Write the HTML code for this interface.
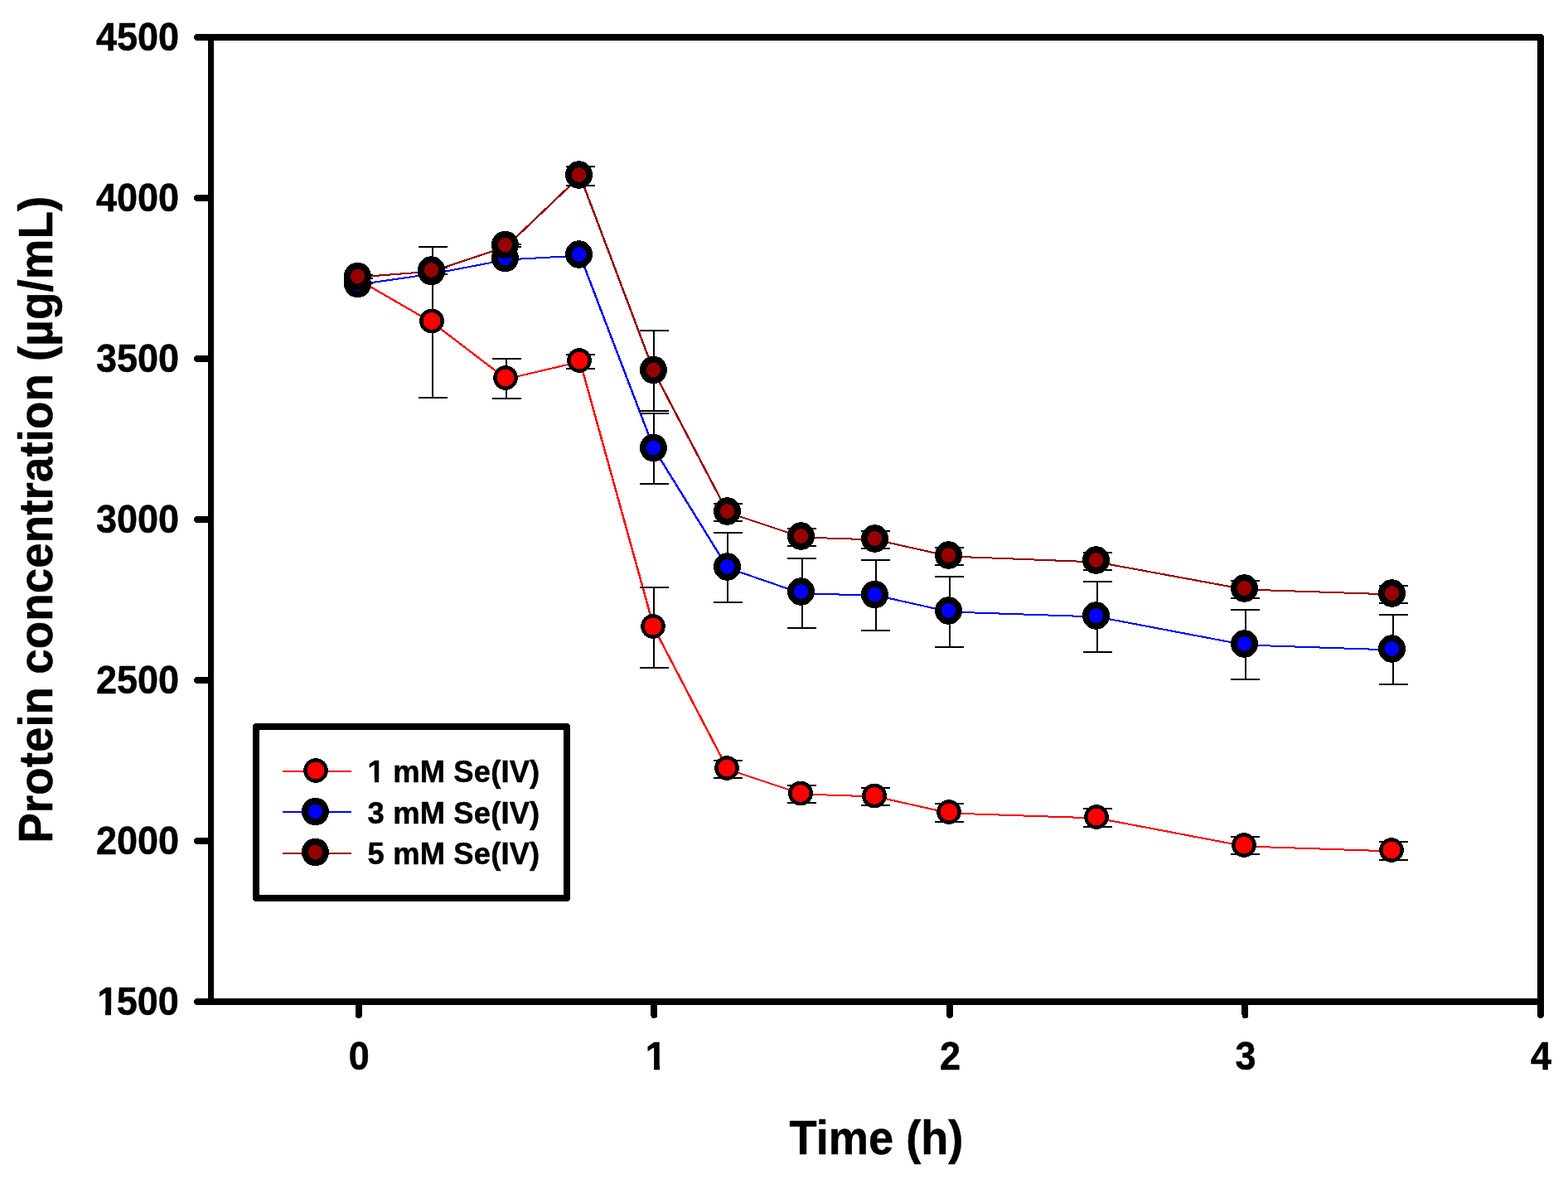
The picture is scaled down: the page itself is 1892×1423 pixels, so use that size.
<!DOCTYPE html>
<html lang="en">
<head>
<meta charset="utf-8">
<title>Protein concentration vs time</title>
<style>
html,body{margin:0;padding:0;background:#fff;}
body{width:1892px;height:1423px;overflow:hidden;}
svg{display:block;}
text{font-family:"Liberation Sans",Arial,Helvetica,sans-serif;font-weight:bold;fill:#000;stroke:#000;stroke-width:0.5px;stroke-linejoin:round;}
.tick{font-size:45px;}
.title{font-size:54.7px;}
.leg{font-size:36.4px;letter-spacing:0.15px;}
</style>
</head>
<body>
<svg width="1892" height="1423" viewBox="0 0 1892 1423" shape-rendering="crispEdges">
<rect x="0" y="0" width="1892" height="1423" fill="#fff"/>

<g fill="none" stroke="#000" stroke-width="8" stroke-linecap="round" stroke-linejoin="round">
<path d="M254.5 45H1859V1209H254.5"/>
<path d="M254.5 41V1213" stroke-width="7" stroke-linecap="butt"/>
<path d="M238 1209H254.5M238 1015H254.5M238 821H254.5M238 627H254.5M238 433H254.5M238 239H254.5M238 45H254.5M432.78 1209V1225M789.33 1209V1225M1145.89 1209V1225M1502.44 1209V1225M1859 1209V1225"/>
</g>
<g class="tick" text-anchor="end">
<text dx="1.5 -1.5" transform="translate(214.3,1225.3) scale(1,1.06)">1500</text>
<text transform="translate(216,1031.3) scale(1,1.06)">2000</text>
<text transform="translate(216,837.3) scale(1,1.06)">2500</text>
<text transform="translate(216,643.3) scale(1,1.06)">3000</text>
<text transform="translate(216,449.3) scale(1,1.06)">3500</text>
<text transform="translate(216,255.3) scale(1,1.06)">4000</text>
<text transform="translate(216,61.3) scale(1,1.06)">4500</text>
</g>
<g class="tick" text-anchor="middle">
<text transform="translate(433.28,1290.7) scale(1,1.06)">0</text>
<text transform="translate(791.33,1290.7) scale(1,1.06)">1</text>
<text transform="translate(1146.39,1290.7) scale(1,1.06)">2</text>
<text transform="translate(1502.94,1290.7) scale(1,1.06)">3</text>
<text transform="translate(1859.5,1290.7) scale(1,1.06)">4</text>
</g>
<text class="title" style="font-size:54.2px" text-anchor="middle" transform="translate(1057.5,1392.9) scale(1,1.045)">Time (h)</text>
<text class="title" style="font-size:54.85px" text-anchor="middle" transform="translate(63,627.3) rotate(-90) scale(1,1.045)">Protein concentration (µg/mL)</text>
<g>
<line x1="432" y1="337.5" x2="522" y2="389.5" stroke="#ff0000" stroke-width="2.25"/>
<line x1="522" y1="389.5" x2="611" y2="457.5" stroke="#ff0000" stroke-width="2.3"/>
<line x1="611" y1="457.5" x2="700" y2="436.5" stroke="#ff0000" stroke-width="2.11"/>
<line x1="700" y1="436.5" x2="789" y2="757.5" stroke="#ff0000" stroke-width="2.48"/>
<line x1="789" y1="757.5" x2="878" y2="928.5" stroke="#ff0000" stroke-width="2.44"/>
<line x1="878" y1="928.5" x2="968" y2="958.5" stroke="#ff0000" stroke-width="2.16"/>
<line x1="968" y1="958.5" x2="1057" y2="961.5" stroke="#ff0000" stroke-width="2.02"/>
<line x1="1057" y1="961.5" x2="1146" y2="981.5" stroke="#ff0000" stroke-width="2.11"/>
<line x1="1146" y1="981.5" x2="1324" y2="987.5" stroke="#ff0000" stroke-width="2.02"/>
<line x1="1324" y1="987.5" x2="1503" y2="1021.5" stroke="#ff0000" stroke-width="2.09"/>
<line x1="1503" y1="1021.5" x2="1681" y2="1027.5" stroke="#ff0000" stroke-width="2.02"/>
<path d="M431 331h2v12h-2zM415 331h35v2h-35zM415 341h35v2h-35zM521 297h2v184h-2zM505 297h35v2h-35zM505 479h35v2h-35zM610 432h2v50h-2zM594 432h35v2h-35zM594 480h35v2h-35zM699 427h2v19h-2zM683 427h35v2h-35zM683 444h35v2h-35zM788 708h2v99h-2zM772 708h35v2h-35zM772 805h35v2h-35zM877 917h2v23h-2zM861 917h35v2h-35zM861 938h35v2h-35zM967 947h2v23h-2zM950 947h35v2h-35zM950 968h35v2h-35zM1056 950h2v23h-2zM1039 950h35v2h-35zM1039 971h35v2h-35zM1145 969h2v24h-2zM1128 969h35v2h-35zM1128 991h35v2h-35zM1323 975h2v24h-2zM1307 975h35v2h-35zM1307 997h35v2h-35zM1502 1009h2v23h-2zM1485 1009h35v2h-35zM1485 1030h35v2h-35zM1680 1015h2v24h-2zM1664 1015h35v2h-35zM1664 1037h35v2h-35z" fill="#000"/>
<ellipse cx="432" cy="336" rx="12.65" ry="12.65" fill="#ff0000" stroke="#000" stroke-width="4.4"/>
<ellipse cx="521" cy="387.5" rx="12.65" ry="12.65" fill="#ff0000" stroke="#000" stroke-width="4.4"/>
<ellipse cx="610" cy="456" rx="12.65" ry="12.65" fill="#ff0000" stroke="#000" stroke-width="4.4"/>
<ellipse cx="699" cy="435" rx="12.65" ry="12.65" fill="#ff0000" stroke="#000" stroke-width="4.4"/>
<ellipse cx="788" cy="756" rx="12.65" ry="12.65" fill="#ff0000" stroke="#000" stroke-width="4.4"/>
<ellipse cx="877" cy="927" rx="12.65" ry="12.65" fill="#ff0000" stroke="#000" stroke-width="4.4"/>
<ellipse cx="966" cy="957.5" rx="12.65" ry="12.65" fill="#ff0000" stroke="#000" stroke-width="4.4"/>
<ellipse cx="1055" cy="960.5" rx="12.65" ry="12.65" fill="#ff0000" stroke="#000" stroke-width="4.4"/>
<ellipse cx="1145" cy="980" rx="12.65" ry="12.65" fill="#ff0000" stroke="#000" stroke-width="4.4"/>
<ellipse cx="1323" cy="986" rx="12.65" ry="12.65" fill="#ff0000" stroke="#000" stroke-width="4.4"/>
<ellipse cx="1501" cy="1020" rx="12.65" ry="12.65" fill="#ff0000" stroke="#000" stroke-width="4.4"/>
<ellipse cx="1679" cy="1026" rx="12.65" ry="12.65" fill="#ff0000" stroke="#000" stroke-width="4.4"/>
<line x1="432" y1="343.5" x2="522" y2="330.5" stroke="#0000ff" stroke-width="2.07"/>
<line x1="522" y1="330.5" x2="611" y2="313.5" stroke="#0000ff" stroke-width="2.09"/>
<line x1="611" y1="313.5" x2="700" y2="308.5" stroke="#0000ff" stroke-width="2.03"/>
<line x1="700" y1="308.5" x2="789" y2="541.5" stroke="#0000ff" stroke-width="2.47"/>
<line x1="789" y1="541.5" x2="878" y2="685.5" stroke="#0000ff" stroke-width="2.43"/>
<line x1="878" y1="685.5" x2="968" y2="716.5" stroke="#0000ff" stroke-width="2.16"/>
<line x1="968" y1="716.5" x2="1057" y2="718.5" stroke="#0000ff" stroke-width="2.01"/>
<line x1="1057" y1="718.5" x2="1146" y2="738.5" stroke="#0000ff" stroke-width="2.11"/>
<line x1="1146" y1="738.5" x2="1324" y2="744.5" stroke="#0000ff" stroke-width="2.02"/>
<line x1="1324" y1="744.5" x2="1503" y2="778.5" stroke="#0000ff" stroke-width="2.09"/>
<line x1="1503" y1="778.5" x2="1681" y2="784.5" stroke="#0000ff" stroke-width="2.02"/>
<path d="M788 498h2v87h-2zM772 498h35v2h-35zM772 583h35v2h-35zM877 642h2v86h-2zM861 642h35v2h-35zM861 726h35v2h-35zM967 673h2v86h-2zM950 673h35v2h-35zM950 757h35v2h-35zM1056 675h2v87h-2zM1039 675h35v2h-35zM1039 760h35v2h-35zM1145 695h2v87h-2zM1128 695h35v2h-35zM1128 780h35v2h-35zM1323 701h2v87h-2zM1307 701h35v2h-35zM1307 786h35v2h-35zM1502 735h2v86h-2zM1485 735h35v2h-35zM1485 819h35v2h-35zM1680 741h2v86h-2zM1664 741h35v2h-35zM1664 825h35v2h-35z" fill="#000"/>
<ellipse cx="431.5" cy="342.5" rx="12.5" ry="12.75" fill="#0000ff" stroke="#000" stroke-width="8"/>
<ellipse cx="520.5" cy="327.5" rx="12.5" ry="12.75" fill="#0000ff" stroke="#000" stroke-width="8"/>
<ellipse cx="609.5" cy="311.5" rx="12.5" ry="12.75" fill="#0000ff" stroke="#000" stroke-width="8"/>
<ellipse cx="698.5" cy="307" rx="12.5" ry="12.75" fill="#0000ff" stroke="#000" stroke-width="8"/>
<ellipse cx="788.5" cy="540.5" rx="12.5" ry="12.75" fill="#0000ff" stroke="#000" stroke-width="8"/>
<ellipse cx="877.5" cy="684" rx="12.5" ry="12.75" fill="#0000ff" stroke="#000" stroke-width="8"/>
<ellipse cx="966.5" cy="714" rx="12.5" ry="12.75" fill="#0000ff" stroke="#000" stroke-width="8"/>
<ellipse cx="1055.5" cy="717.5" rx="12.5" ry="12.75" fill="#0000ff" stroke="#000" stroke-width="8"/>
<ellipse cx="1144.5" cy="737" rx="12.5" ry="12.75" fill="#0000ff" stroke="#000" stroke-width="8"/>
<ellipse cx="1322.5" cy="743" rx="12.5" ry="12.75" fill="#0000ff" stroke="#000" stroke-width="8"/>
<ellipse cx="1501.5" cy="777" rx="12.5" ry="12.75" fill="#0000ff" stroke="#000" stroke-width="8"/>
<ellipse cx="1679.5" cy="783" rx="12.5" ry="12.75" fill="#0000ff" stroke="#000" stroke-width="8"/>
<line x1="432" y1="334.5" x2="522" y2="327.5" stroke="#960000" stroke-width="2.04"/>
<line x1="522" y1="327.5" x2="611" y2="297.5" stroke="#960000" stroke-width="2.16"/>
<line x1="611" y1="297.5" x2="700" y2="212.5" stroke="#960000" stroke-width="2.35"/>
<line x1="700" y1="212.5" x2="789" y2="448.5" stroke="#960000" stroke-width="2.47"/>
<line x1="789" y1="448.5" x2="878" y2="618.5" stroke="#960000" stroke-width="2.44"/>
<line x1="878" y1="618.5" x2="968" y2="648.5" stroke="#960000" stroke-width="2.16"/>
<line x1="968" y1="648.5" x2="1057" y2="651.5" stroke="#960000" stroke-width="2.02"/>
<line x1="1057" y1="651.5" x2="1146" y2="671.5" stroke="#960000" stroke-width="2.11"/>
<line x1="1146" y1="671.5" x2="1324" y2="678.5" stroke="#960000" stroke-width="2.02"/>
<line x1="1324" y1="678.5" x2="1503" y2="711.5" stroke="#960000" stroke-width="2.09"/>
<line x1="1503" y1="711.5" x2="1681" y2="717.5" stroke="#960000" stroke-width="2.02"/>
<path d="M431 331h2v6h-2zM415 331h35v2h-35zM415 335h35v2h-35zM521 322h2v10h-2zM505 322h35v2h-35zM505 330h35v2h-35zM610 294h2v5h-2zM594 294h35v2h-35zM594 297h35v2h-35zM699 200h2v25h-2zM683 200h35v2h-35zM683 223h35v2h-35zM788 398h2v99h-2zM772 398h35v2h-35zM772 495h35v2h-35zM877 607h2v23h-2zM861 607h35v2h-35zM861 628h35v2h-35zM967 637h2v23h-2zM950 637h35v2h-35zM950 658h35v2h-35zM1056 640h2v23h-2zM1039 640h35v2h-35zM1039 661h35v2h-35zM1145 660h2v23h-2zM1128 660h35v2h-35zM1128 681h35v2h-35zM1323 666h2v23h-2zM1307 666h35v2h-35zM1307 687h35v2h-35zM1502 700h2v23h-2zM1485 700h35v2h-35zM1485 721h35v2h-35zM1680 706h2v23h-2zM1664 706h35v2h-35zM1664 727h35v2h-35z" fill="#000"/>
<ellipse cx="431.5" cy="333.5" rx="12.5" ry="12.75" fill="#960000" stroke="#000" stroke-width="8"/>
<ellipse cx="520.5" cy="326" rx="12.5" ry="12.75" fill="#960000" stroke="#000" stroke-width="8"/>
<ellipse cx="609.5" cy="295.5" rx="12.5" ry="12.75" fill="#960000" stroke="#000" stroke-width="8"/>
<ellipse cx="698.5" cy="211" rx="12.5" ry="12.75" fill="#960000" stroke="#000" stroke-width="8"/>
<ellipse cx="788.5" cy="446.5" rx="12.5" ry="12.75" fill="#960000" stroke="#000" stroke-width="8"/>
<ellipse cx="877.5" cy="617" rx="12.5" ry="12.75" fill="#960000" stroke="#000" stroke-width="8"/>
<ellipse cx="966.5" cy="647" rx="12.5" ry="12.75" fill="#960000" stroke="#000" stroke-width="8"/>
<ellipse cx="1055.5" cy="650" rx="12.5" ry="12.75" fill="#960000" stroke="#000" stroke-width="8"/>
<ellipse cx="1144.5" cy="670" rx="12.5" ry="12.75" fill="#960000" stroke="#000" stroke-width="8"/>
<ellipse cx="1322.5" cy="676" rx="12.5" ry="12.75" fill="#960000" stroke="#000" stroke-width="8"/>
<ellipse cx="1501.5" cy="710" rx="12.5" ry="12.75" fill="#960000" stroke="#000" stroke-width="8"/>
<ellipse cx="1679.5" cy="716" rx="12.5" ry="12.75" fill="#960000" stroke="#000" stroke-width="8"/>
</g>
<rect x="309" y="877" width="375" height="207" fill="#fff" stroke="#000" stroke-width="7.5" stroke-linejoin="round"/>
<line x1="341" y1="930.7" x2="424" y2="930.7" stroke="#ff0000" stroke-width="2"/>
<ellipse cx="381" cy="930" rx="12.65" ry="12.65" fill="#ff0000" stroke="#000" stroke-width="4.4"/>
<text class="leg" transform="translate(443.5,944.1) scale(1,1.02)">1 mM Se(IV)</text>
<line x1="341" y1="980.3" x2="424" y2="980.3" stroke="#0000ff" stroke-width="2"/>
<ellipse cx="380.5" cy="979.5" rx="12.5" ry="12.75" fill="#0000ff" stroke="#000" stroke-width="8"/>
<text class="leg" transform="translate(443.5,993.7) scale(1,1.02)">3 mM Se(IV)</text>
<line x1="341" y1="1029.9" x2="424" y2="1029.9" stroke="#960000" stroke-width="2"/>
<ellipse cx="380.5" cy="1028.5" rx="12.5" ry="12.75" fill="#960000" stroke="#000" stroke-width="8"/>
<text class="leg" transform="translate(443.5,1043.3) scale(1,1.02)">5 mM Se(IV)</text>
<rect x="780" y="1284.5" width="9" height="8" fill="#fff"/>
<rect x="796" y="1284.5" width="8" height="8" fill="#fff"/>
<rect x="119" y="1218.5" width="8" height="8" fill="#fff"/>
<rect x="134" y="1218.5" width="8" height="8" fill="#fff"/>
<rect x="444" y="939.5" width="8" height="6" fill="#fff"/>
<rect x="457" y="939.5" width="7" height="6" fill="#fff"/>
</svg>
</body>
</html>
